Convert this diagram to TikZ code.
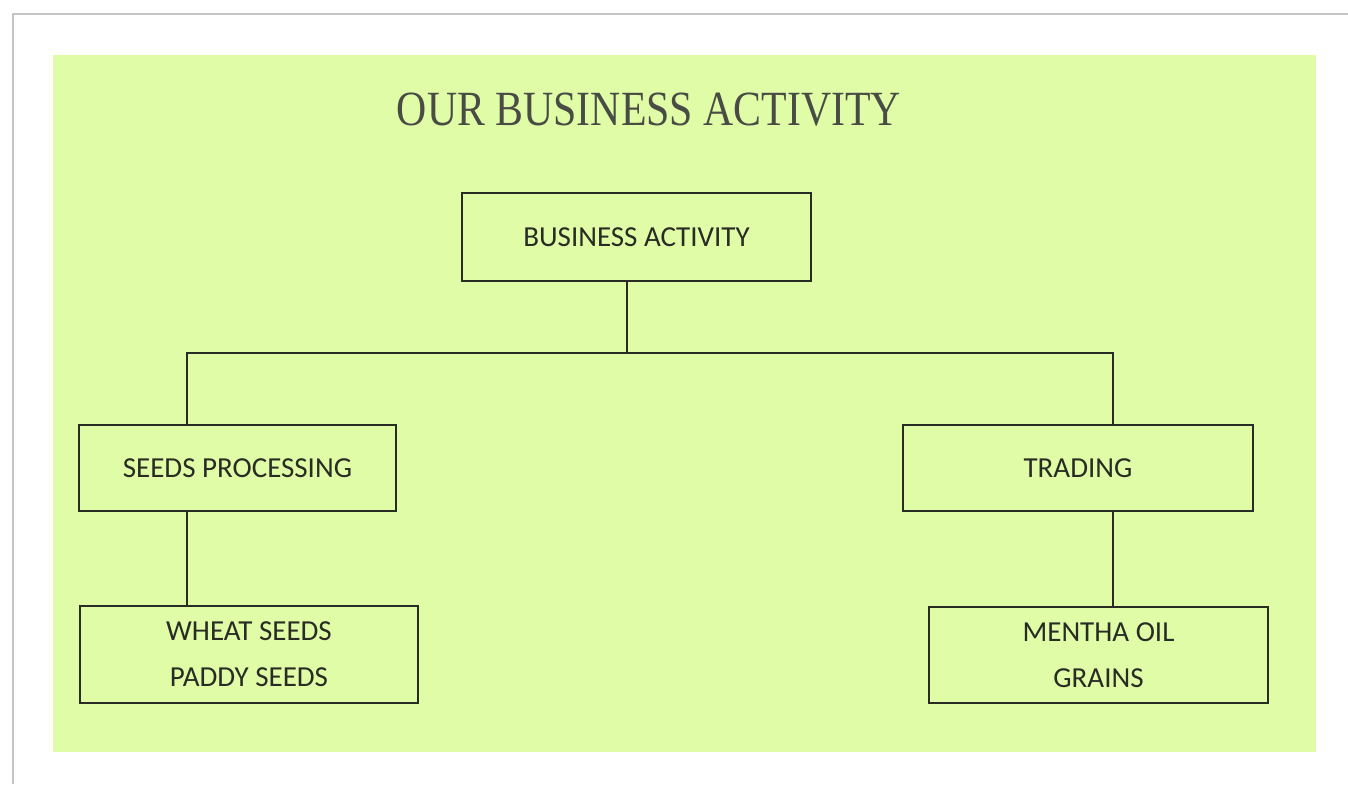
\documentclass[tikz,border=0pt]{standalone}
\usepackage{fontspec}
\setmainfont{Carlito}
\newfontfamily\titlefont{Liberation Serif}
\definecolor{bggreen}{RGB}{224,252,167}
\definecolor{framegray}{RGB}{196,196,196}
\definecolor{inkgray}{RGB}{40,44,36}

\begin{document}
\begin{tikzpicture}[x=0.02cm,y=-0.02cm,
    box/.style={draw=inkgray,line width=1.1pt,inner sep=0pt,align=center,
      text=inkgray,font=\fontsize{16.5}{26}\selectfont},
    link/.style={draw=inkgray,line width=0.9pt}]
   \useasboundingbox (0,0) rectangle (1348,784);
   \path[fill=white] (0,0) rectangle (1348,784);
   % page shadow
   \draw[framegray,line width=1.6pt] (13,784) -- (13,14) -- (1348,14);
   \path[fill=bggreen] (53,55) rectangle (1316,752);
   \node[font=\titlefont\fontsize{28}{28}\selectfont,text=inkgray!85] (title) at (649,110) {\scalebox{0.85}[1]{OUR BUSINESS ACTIVITY}};

   \node[box,minimum width=6.98cm,minimum height=1.76cm] (activity) at (636.5,237) {BUSINESS ACTIVITY};
   \node[box,minimum width=6.34cm,minimum height=1.72cm] (seeds) at (237.5,468) {SEEDS PROCESSING};
   \node[box,minimum width=7cm,minimum height=1.72cm] (trading) at (1078,468) {TRADING};
   \node[box,minimum width=6.76cm,minimum height=1.94cm] (wheat) at (249,654.5) {WHEAT SEEDS\\PADDY SEEDS};
   \node[box,minimum width=6.78cm,minimum height=1.92cm] (mentha) at (1098.5,655) {MENTHA OIL\\GRAINS};

   \coordinate (jm) at (627,353);
   \coordinate (jl) at (187,353);
   \coordinate (jr) at (1113,353);
   \draw[link] (jm |- activity.south) -- (jm);
   \draw[link] (jl |- seeds.north) -- (jl) -- (jr) -- (jr |- trading.north);
   \draw[link] (jl |- seeds.south) -- (jl |- wheat.north);
   \draw[link] (jr |- trading.south) -- (jr |- mentha.north);
\end{tikzpicture}
\end{document}
